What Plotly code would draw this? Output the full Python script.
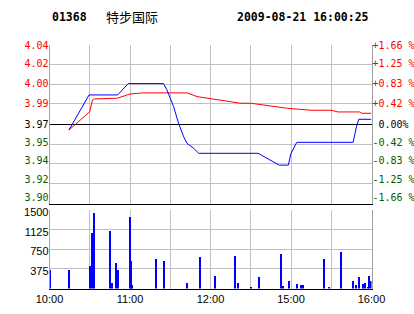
import plotly.graph_objects as go

W, H = 414, 314

# ---------------- data ----------------
stock_code = "01368"
stock_name = "特步国际"
timestamp = "2009-08-21 16:00:25"
prev_close = 3.97

# minute index from 10:00 (0) to 16:00 (240), lunch break removed
price_minutes = [14.5, 29.5, 50.8, 58.7, 85.0, 87.5, 92.5, 96.2, 100.0, 102.5, 107.5, 111.2,
                 155.5, 160.0, 165.0, 171.2, 178.0, 180.0, 184.3, 226.3, 228.8, 230.5, 240.0]
prices = [3.965, 3.9941, 3.9941, 4.0035, 4.0035, 3.9983, 3.9844, 3.9706, 3.9594, 3.954, 3.9498, 3.9457,
          3.9457, 3.9428, 3.9401, 3.9359, 3.9359, 3.9457, 3.9548, 3.9548, 3.9678, 3.9739, 3.9739]

avg_minutes = [14.5, 18.75, 26.25, 30.0, 32.0, 33.75, 50.8, 60.0, 70.0, 102.5, 110.0, 120.0,
               142.5, 150.0, 177.5, 195.0, 210.0, 215.0, 231.2, 232.5, 240.0]
avg_prices = [3.965, 3.9692, 3.9766, 3.9802, 3.9899, 3.9908, 3.9914, 3.9949, 3.9958, 3.9958, 3.9927, 3.991,
              3.9872, 3.9872, 3.983, 3.9814, 3.9814, 3.98, 3.98, 3.9789, 3.9789]

vol_minutes = [0, 14.5, 30, 31, 33, 45, 46, 49, 50.5, 59.5, 60.2, 61, 79, 85, 102, 111.5, 123, 138, 140.5,
               149.5, 155.5, 172, 174, 178, 184, 187, 188.5, 204, 208, 217, 226, 228, 230.5, 233.5, 235,
               237, 238, 239.5]
volumes = [366, 366, 442, 1069, 1449, 1107, 107, 487, 366, 1360, 537, 82, 575, 537, 120, 613, 253, 632, 120,
           44, 234, 670, 63, 158, 101, 82, 82, 575, 44, 708, 158, 82, 234, 101, 120, 44, 253, 158]

pct_ticks = [1.66, 1.25, 0.83, 0.42, 0.0, -0.42, -0.83, -1.25, -1.66]
left_labels = ["4.04", "4.02", "4.00", "3.99", "3.97", "3.95", "3.94", "3.92", "3.90"]
right_labels = ["+1.66 %", "+1.25 %", "+0.83 %", "+0.42 %", " 0.00%", "-0.42 %", "-0.83 %", "-1.25 %", "-1.66 %"]
vol_ticks = [375, 750, 1125, 1500]
vol_labels = ["375", "750", "1125", "1500"]
time_ticks = [0, 30, 60, 90, 120, 150, 180, 210, 240]
time_labels = ["10:00", "", "11:00", "", "12:00", "", "15:00", "", "16:00"]

# ---------------- styling ----------------
RED = "#FF0000"
GREEN = "#005E00"
BLUE = "#0000FF"
GRID = "#C0C0C0"
AXIS = "#A0A0A0"
MONO = "DejaVu Sans Mono"
SANS = "Liberation Sans"

# labels sit slightly off their gridlines in the reference
label_shift = [-0.02, 0.015, 0.015, 0.015, 0.0, 0.04, 0.077, 0.09, 0.117]


def colored(txt, i):
    c = RED if i < 4 else ("#000000" if i == 4 else GREEN)
    return '<span style="color:%s">%s</span>' % (c, txt.replace(" ", "\u00a0"))


price_pct = [(p / prev_close - 1) * 100 for p in prices]
avg_pct = [(p / prev_close - 1) * 100 for p in avg_prices]
label_pos = [t + s for t, s in zip(pct_ticks, label_shift)]

xd = [49.5 / W, 371.5 / W]
main_dom = [(H - 203.5) / H, (H - 44.5) / H]
vol_dom = [(H - 288.5) / H, (H - 209.5) / H]

fig = go.Figure()
fig.add_trace(go.Scatter(x=avg_minutes, y=avg_pct, mode="lines", line=dict(color=RED, width=1),
                         xaxis="x", yaxis="y", hoverinfo="skip"))
fig.add_trace(go.Scatter(x=price_minutes, y=price_pct, mode="lines", line=dict(color=BLUE, width=1),
                         xaxis="x", yaxis="y", hoverinfo="skip"))
fig.add_trace(go.Scatter(x=[None], y=[None], xaxis="x", yaxis="y2", showlegend=False))
fig.add_trace(go.Scatter(x=[None], y=[None], xaxis="x", yaxis="y3", showlegend=False))
fig.add_trace(go.Bar(x=vol_minutes, y=volumes, width=0.8, marker=dict(color=BLUE, line=dict(width=0)),
                     xaxis="x2", yaxis="y4", hoverinfo="skip"))
fig.add_trace(go.Scatter(x=[None], y=[None], xaxis="x2", yaxis="y5", showlegend=False))

common_x = dict(range=[0, 240], tickmode="array", tickvals=time_ticks, showgrid=True, gridcolor=GRID,
                gridwidth=1, zeroline=False, showline=True, linecolor="#000000", linewidth=1, ticks="",
                fixedrange=True, automargin=False)

fig.update_layout(
    width=W, height=H, margin=dict(l=0, r=0, t=0, b=0, pad=0), showlegend=False,
    paper_bgcolor="white", plot_bgcolor="white",
    xaxis=dict(domain=xd, anchor="y", showticklabels=False, **common_x),
    xaxis2=dict(domain=xd, anchor="y4", ticktext=time_labels, showticklabels=True,
                tickfont=dict(family=SANS, size=11, color="#000000"), **common_x),
    yaxis=dict(domain=main_dom, anchor="x", range=[-1.66, 1.66], tickmode="array", tickvals=pct_ticks,
               showticklabels=False, showgrid=True, gridcolor=GRID, zeroline=True, zerolinecolor="#000000",
               zerolinewidth=1, showline=True, linecolor=AXIS, mirror=True, ticks="", fixedrange=True,
               automargin=False),
    yaxis2=dict(overlaying="y", anchor="x", side="left", range=[-1.66, 1.66], tickmode="array",
                tickvals=label_pos, ticktext=[colored(t, i) for i, t in enumerate(left_labels)],
                tickfont=dict(family=MONO, size=10), showgrid=False, zeroline=False, showline=False,
                ticks="", ticklabelstandoff=0, fixedrange=True, automargin=False),
    yaxis3=dict(overlaying="y", anchor="x", side="right", range=[-1.66, 1.66], tickmode="array",
                tickvals=label_pos, ticktext=[colored(t, i) for i, t in enumerate(right_labels)],
                tickfont=dict(family=MONO, size=10), showgrid=False, zeroline=False, showline=False,
                ticks="", ticklabelstandoff=0, fixedrange=True, automargin=False),
    yaxis4=dict(domain=vol_dom, anchor="x2", range=[0, 1500], tickmode="array", tickvals=vol_ticks,
                showticklabels=False, showgrid=True, gridcolor=GRID, zeroline=False, showline=True,
                linecolor=AXIS, mirror=True, ticks="", fixedrange=True, automargin=False),
    yaxis5=dict(overlaying="y4", anchor="x2", side="left", range=[0, 1500], tickmode="array",
                tickvals=[v - 50 for v in vol_ticks], ticktext=vol_labels,
                tickfont=dict(family=SANS, size=11, color="#000000"), showgrid=False, zeroline=False,
                showline=False, ticks="", ticklabelstandoff=0, fixedrange=True, automargin=False),
    bargap=0,
)

title_y = (H - 16.5) / H
fig.add_annotation(x=50 / W, y=title_y, xref="paper", yref="paper", text="<b>%s</b>" % stock_code,
                   showarrow=False, xanchor="left", yanchor="middle",
                   font=dict(family=MONO, size=11.5, color="#000000"))
fig.add_annotation(x=104 / W, y=title_y, xref="paper", yref="paper", text=stock_name,
                   showarrow=False, xanchor="left", yanchor="middle",
                   font=dict(family="Noto Sans CJK SC", size=13, color="#000000"))
fig.add_annotation(x=371 / W, y=title_y, xref="paper", yref="paper", text="<b>%s</b>" % timestamp,
                   showarrow=False, xanchor="right", yanchor="middle",
                   font=dict(family=MONO, size=11.5, color="#000000"))

fig.write_html("out.html", config={"displayModeBar": False})
